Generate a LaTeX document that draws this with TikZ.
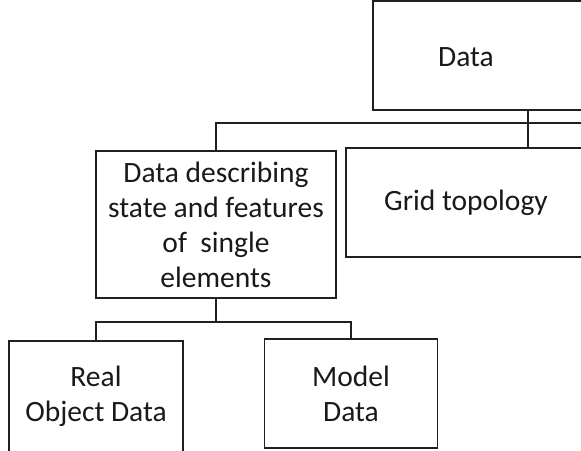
\documentclass[tikz,border=0pt]{standalone}
\usepackage{fontspec}
\setmainfont{Carlito}
\begin{document}
\begin{tikzpicture}[x=1pt,y=-1pt,
  box/.style={draw=black!88, line width=1.6pt, rectangle, inner sep=0pt, align=center,
    font=\fontsize{29.5}{35}\selectfont, text=black!90},
  word/.style={inner sep=0pt, align=center, font=\fontsize{29.5}{35}\selectfont, text=black!90},
  wire/.style={draw=black!88, line width=2.6pt}]
\useasboundingbox (0,0) rectangle (581,450);
\clip (0,0) rectangle (581,450);

% top-level box (runs past the right margin) and its label
\node[box, minimum width=240pt, minimum height=109pt] (data) at (493,55.5) {};
\node[word] (datalabel) at (466,57) {Data};

% second level
\node[box, minimum width=240pt, minimum height=147pt] (desc) at (216,224.5)
  {Data describing\\state and features\\of\ \ single\\elements};
\node[box, minimum width=240pt, minimum height=109pt] (grid) at (466,202.5)
  {Grid topology};

% third level
\node[box, minimum width=174pt, minimum height=111pt] (real) at (96,396.5)
  {Real\\Object Data};
\node[box, minimum width=173pt, minimum height=109pt] (model) at (351,393.5)
  {Model\\Data};

% connectors
\coordinate (tap) at (528,123);
\coordinate (busend) at (600,123);
\coordinate (lowbus) at (216,322);
\draw[wire] (desc.north) |- (busend);
\draw[wire] (tap |- data.south) -- (tap |- grid.north);
\draw[wire] (desc.south) -- (lowbus);
\draw[wire] (real.north) |- (lowbus) -| (model.north);
\end{tikzpicture}
\end{document}
